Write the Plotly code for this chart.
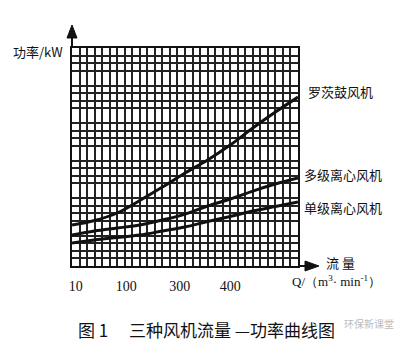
import plotly.graph_objects as go

# grid units along the flow axis (schematic chart, 30 cells wide, 29 cells high)
q_grid = [0, 3, 6, 9, 12, 15, 18, 21, 24, 27, 30]
roots_blower = [5.45, 6.05, 7.05, 8.71, 10.5, 12.37, 14.1, 16.09, 18.35, 20.48, 22.47]
multi_stage = [4.12, 4.65, 5.05, 5.45, 6.12, 6.91, 7.98, 8.91, 9.97, 10.9, 11.7]
single_stage = [3.06, 3.46, 3.79, 4.12, 4.65, 5.19, 5.92, 6.58, 7.31, 7.91, 8.51]
series_names = ["罗茨鼓风机", "多级离心风机", "单级离心风机"]

x_tick_pos = [0.5, 7.2, 14.3, 21.0]
x_tick_text = ["10", "100", "300", "400"]

CJK = "Noto Sans CJK SC"
SERIF = "Liberation Serif"

fig = go.Figure()
for ys, name in zip([roots_blower, multi_stage, single_stage], series_names):
    fig.add_trace(go.Scatter(x=q_grid, y=ys, mode="lines", name=name,
                             line=dict(color="#111", width=3, shape="spline"),
                             showlegend=False, hoverinfo="skip"))

grid_col = "#222222"
fig.update_layout(
    width=406, height=364,
    margin=dict(l=72, r=108, t=48, b=98),
    paper_bgcolor="white", plot_bgcolor="white",
    xaxis=dict(range=[0, 30], showgrid=False, zeroline=False,
               tickmode="array", tickvals=x_tick_pos, ticktext=x_tick_text,
               ticks="", ticklabelstandoff=6,
               tickfont=dict(family=SERIF, size=14, color="#111"),
               showline=True, linecolor="#111", linewidth=2, mirror=True,
               minor=dict(dtick=1, tick0=0, showgrid=True, gridcolor=grid_col, gridwidth=1.8, ticks="")),
    yaxis=dict(range=[0, 29], showgrid=False, zeroline=False, showticklabels=False,
               ticks="", showline=True, linecolor="#111", linewidth=2, mirror=True,
               minor=dict(dtick=1, tick0=0, showgrid=True, gridcolor=grid_col, gridwidth=1.8, ticks="")),
)

# axis arrows (paper coords: plot area is 226 x 218 px)
W, H = 226.0, 218.0
fig.add_shape(type="line", xref="paper", yref="paper", x0=0, y0=1, x1=0, y1=(266 - 34) / H,
              line=dict(color="#111", width=2))
fig.add_shape(type="path", xref="paper", yref="paper",
              path=f"M {-5/W} {(266-38)/H} L {5/W} {(266-38)/H} L 0 {(266-25)/H} Z",
              fillcolor="#111", line=dict(color="#111", width=1))
fig.add_shape(type="line", xref="paper", yref="paper", x0=1, y0=0, x1=(310 - 72) / W, y1=0,
              line=dict(color="#111", width=2))
fig.add_shape(type="path", xref="paper", yref="paper",
              path=f"M {(305-72)/W} {5/H} L {(305-72)/W} {-5/H} L {(319-72)/W} 0 Z",
              fillcolor="#111", line=dict(color="#111", width=1))

def px(xp, yp):
    return (xp - 72) / W, (266 - yp) / H

def label(text, xp, yp, size=13, family=CJK, color="#111", xanchor="left"):
    x, y = px(xp, yp)
    fig.add_annotation(text=text, x=x, y=y, xref="paper", yref="paper", showarrow=False,
                       xanchor=xanchor, yanchor="middle",
                       font=dict(family=family, size=size, color=color))

# curve labels
label(series_names[0], 306, 91)
label(series_names[1], 302, 174)
label(series_names[2], 302, 207)

# axis titles
label("功率/kW", 11, 51)
label("流 量", 324, 262)
label("Q/（m<sup>3</sup>· min<sup>-1</sup>）", 290, 281, size=13, family=SERIF)

# caption
label("图 1　 三种风机流量 —功率曲线图", 76, 329, size=17)
# watermark
label("环保新课堂", 342, 323, size=10, color="#bbbbbb")

fig.write_html("out.html", config={"displayModeBar": False},
               post_script="document.body.style.margin='0';document.body.style.overflow='hidden';")
